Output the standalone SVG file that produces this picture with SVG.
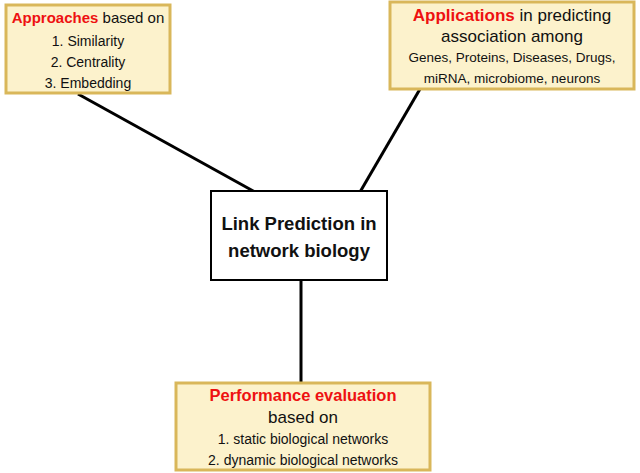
<svg xmlns="http://www.w3.org/2000/svg" width="640" height="473" viewBox="0 0 640 473">
<style>
.b{fill:#fcf2cc;stroke:#d9b75a;stroke-width:3}
.t{font-family:"Liberation Sans",Arial,sans-serif;fill:#111;text-anchor:middle}
.r{fill:#ee1111;font-weight:bold}
.c{stroke:#000;stroke-width:3;fill:none}
</style>
<rect width="640" height="473" fill="#fff"/>
<g id="connectors">
<line class="c" x1="78" y1="94" x2="255" y2="192"/>
<line class="c" x1="420" y1="89" x2="360" y2="192"/>
<line class="c" x1="301" y1="280" x2="301" y2="383"/>
</g>
<g id="approaches">
<rect class="b" x="6" y="5" width="164" height="88"/>
<text class="t" x="88" y="23" font-size="15"><tspan class="r">Approaches</tspan> based on</text>
<text class="t" x="88" y="46" font-size="14">1. Similarity</text>
<text class="t" x="88" y="67" font-size="14">2. Centrality</text>
<text class="t" x="88" y="88" font-size="14">3. Embedding</text>
</g>
<g id="applications">
<rect class="b" x="390" y="2" width="244" height="87"/>
<text class="t" x="512" y="21" font-size="17"><tspan class="r">Applications</tspan> in predicting</text>
<text class="t" x="512" y="42" font-size="17">association among</text>
<text class="t" x="512" y="62" font-size="13.5">Genes, Proteins, Diseases, Drugs,</text>
<text class="t" x="512" y="83" font-size="13.5">miRNA, microbiome, neurons</text>
</g>
<g id="center">
<rect x="211" y="191" width="176" height="89" fill="#fff" stroke="#000" stroke-width="2"/>
<text class="t" x="299" y="230" font-size="18.5" font-weight="bold">Link Prediction in</text>
<text class="t" x="299" y="257" font-size="18.5" font-weight="bold">network biology</text>
</g>
<g id="performance">
<rect class="b" x="176" y="383" width="254" height="87"/>
<text class="t" x="303" y="401" font-size="16.5"><tspan class="r">Performance evaluation</tspan></text>
<text class="t" x="303" y="423" font-size="17">based on</text>
<text class="t" x="303" y="444" font-size="14">1. static biological networks</text>
<text class="t" x="303" y="465" font-size="14">2. dynamic biological networks</text>
</g>
</svg>
